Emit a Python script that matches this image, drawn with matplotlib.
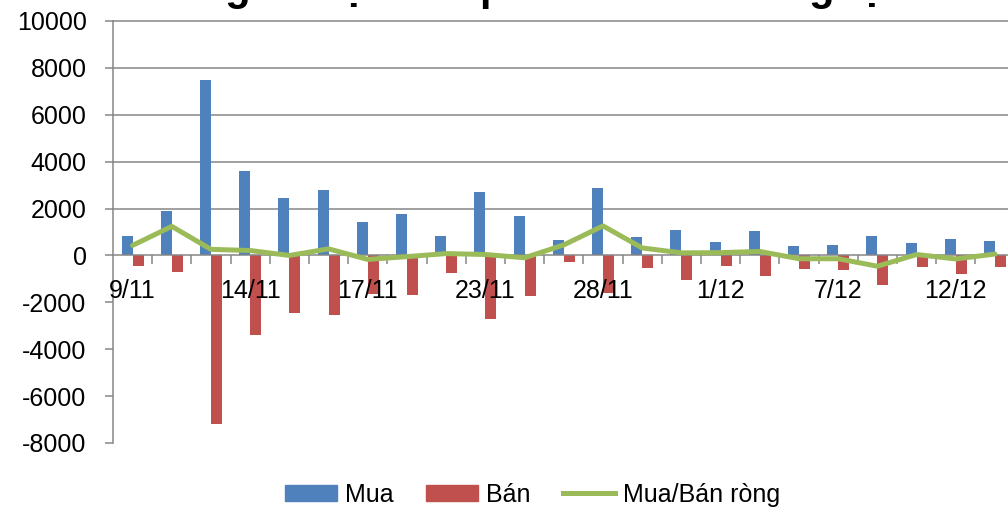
import numpy as np
import matplotlib.pyplot as plt
from matplotlib.patches import Patch
from matplotlib.lines import Line2D

plt.rcParams['font.family'] = ['Liberation Sans', 'DejaVu Sans']
plt.rcParams['axes.unicode_minus'] = False

# data
dates = ['9/11', '10/11', '13/11', '14/11', '15/11', '16/11', '17/11', '20/11',
         '21/11', '23/11', '24/11', '27/11', '28/11', '29/11', '30/11', '1/12',
         '4/12', '5/12', '7/12', '8/12', '11/12', '12/12', '13/12']
mua = [850, 1890, 7500, 3610, 2470, 2800, 1435, 1750, 850, 2700, 1700, 680,
       2880, 800, 1100, 560, 1050, 420, 450, 850, 540, 700, 600]
ban = [-430, -700, -7200, -3400, -2450, -2530, -1650, -1700, -740, -2700, -1720, -300,
       -1600, -520, -1050, -470, -890, -560, -600, -1280, -480, -800, -510]
rong = [430, 1240, 260, 210, 0, 280, -170, -50, 80, 40, -100, 450,
        1260, 320, 110, 120, 170, -140, -140, -460, 40, -150, 60]
y_ticks = list(range(-8000, 10001, 2000))
title = 'Diễn biến giao dịch cổ phiếu của khối ngoại theo ngày'

BLUE = '#4F81BD'
RED = '#C0504D'
GREEN = '#9BBB59'
GREY = '#868686'

fig = plt.figure(figsize=(10.08, 5.09), dpi=100)
ax = fig.add_axes([113 / 1008, 1 - 443 / 509, (1014.6 - 113) / 1008, (443 - 21) / 509])

x = np.arange(len(dates))
w = 0.28
ax.bar(x - w / 2, mua, width=w, color=BLUE, zorder=1)
ax.bar(x + w / 2, ban, width=w, color=RED, zorder=1)
ax.plot(x, rong, color=GREEN, lw=3.6, solid_joinstyle='round', solid_capstyle='round', zorder=4)

for t in y_ticks:
    if t > 0:
        ax.axhline(t, color=GREY, lw=1.1, zorder=0, clip_on=False)

ax.set_xlim(-0.5, len(dates) - 0.5)
ax.set_ylim(-8000, 10000)
ax.set_yticks(y_ticks)
ax.set_yticklabels([str(t) for t in y_ticks])
ax.tick_params(axis='y', length=6, width=1.1, color=GREY, pad=13, labelsize=18)

ax.set_xticks(x[::3])
ax.set_xticklabels(dates[::3])
ax.set_xticks(np.arange(0.5, len(dates) - 0.5, 1), minor=True)
ax.tick_params(axis='x', which='major', length=0, pad=17, labelsize=18)
ax.tick_params(axis='x', which='minor', length=6.5, width=1.1, color=GREY)
ax.xaxis.set_zorder(3)

for s in ['top', 'right']:
    ax.spines[s].set_visible(False)
ax.spines['bottom'].set_position(('data', 0))
ax.spines['bottom'].set_color(GREY)
ax.spines['bottom'].set_linewidth(1.1)
ax.spines['bottom'].set_zorder(2)
ax.spines['left'].set_color(GREY)
ax.spines['left'].set_linewidth(1.1)

fig.text(0.56, 1.0, title, ha='center', va='baseline', fontsize=30, fontweight='bold')

handles = [Patch(color=BLUE), Patch(color=RED), Line2D([], [], color=GREEN, lw=3.6)]
fig.legend(handles, ['Mua', 'Bán', 'Mua/Bán ròng'], loc='center', bbox_to_anchor=(0.528, 0.028),
           ncol=3, frameon=False, fontsize=18, handlelength=2.1, handleheight=0.6,
           handletextpad=0.3, columnspacing=1.3)

fig.savefig('out.png', dpi=100)
